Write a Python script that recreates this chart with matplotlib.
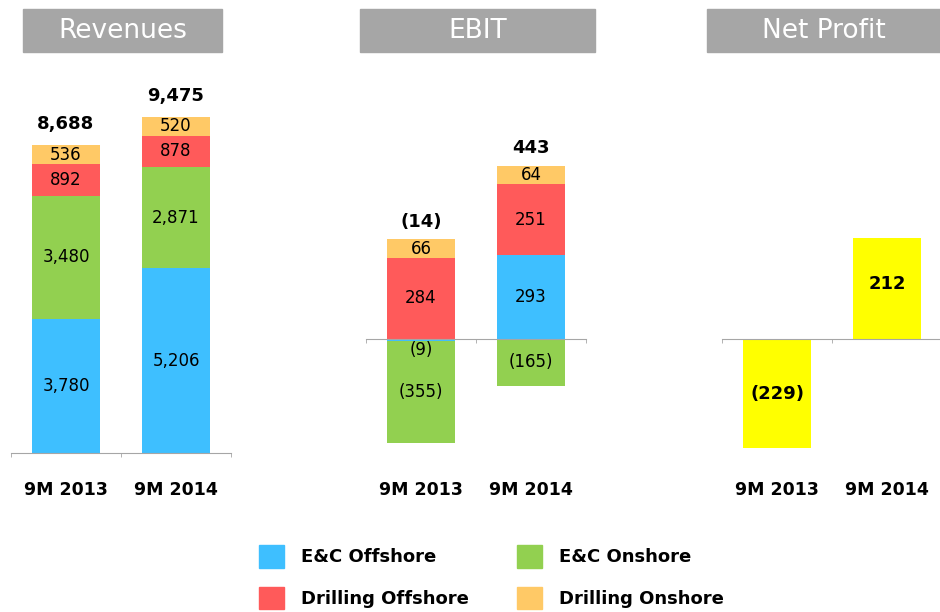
import matplotlib
matplotlib.use('Agg')
import matplotlib.pyplot as plt
from matplotlib.patches import Patch, Rectangle
from matplotlib import transforms

W, H = 940, 612

periods = ['9M 2013', '9M 2014']
segments = ['E&C Offshore', 'E&C Onshore', 'Drilling Offshore', 'Drilling Onshore']
colors = ['#3EBFFF', '#92D050', '#FF5A5A', '#FFC966']

rev = {
    'E&C Offshore': [3780, 5206],
    'E&C Onshore': [3480, 2871],
    'Drilling Offshore': [892, 878],
    'Drilling Onshore': [536, 520],
}
ebit = {
    'E&C Offshore': [-9, 293],
    'E&C Onshore': [-355, -165],
    'Drilling Offshore': [284, 251],
    'Drilling Onshore': [66, 64],
}
net_profit = [-229, 212]

titles = ['Revenues', 'EBIT', 'Net Profit']


def fmt(v):
    s = '{:,}'.format(abs(v))
    return '(%s)' % s if v < 0 else s


def px_axes(fig, x0, x1, ytop, ybot):
    return fig.add_axes([x0 / W, 1 - ybot / H, (x1 - x0) / W, (ybot - ytop) / H])


def style_axis(ax, fig):
    for s in ['top', 'right', 'left']:
        ax.spines[s].set_visible(False)
    ax.spines['bottom'].set_position(('data', 0))
    ax.spines['bottom'].set_color('#a6a6a6')
    ax.set_xlim(-0.5, 1.5)
    ax.set_yticks([])
    ax.set_xticks([0, 1])
    ax.set_xticklabels([])
    ax.tick_params(axis='x', which='major', length=0)
    ax.set_xticks([-0.5, 0.5, 1.5], minor=True)
    ax.tick_params(axis='x', which='minor', length=3, color='#a6a6a6', direction='out')
    tr = transforms.blended_transform_factory(ax.transData, fig.transFigure)
    for i, p in enumerate(periods):
        ax.text(i, 1 - 490 / H, p, transform=tr, ha='center', va='center',
                fontsize=12.5, fontweight='bold')
    ax.patch.set_alpha(0)


def stacked(ax, data, label_pad):
    pos_base = [0, 0]
    neg_base = [0, 0]
    for seg, c in zip(segments, colors):
        vals = data[seg]
        for i, v in enumerate(vals):
            if v >= 0:
                b = pos_base[i]
                pos_base[i] += v
            else:
                b = neg_base[i]
                neg_base[i] += v
            ax.bar(i, v, bottom=b, width=0.62, color=c, linewidth=0)
            if abs(v) < 30:
                ax.text(i, b + v, fmt(v), ha='center', va='top', fontsize=12)
            else:
                ax.text(i, b + v / 2, fmt(v), ha='center', va='center', fontsize=12)
    totals = [sum(data[s][i] for s in segments) for i in range(2)]
    for i, t in enumerate(totals):
        ax.text(i, pos_base[i] + label_pad, fmt(t), ha='center', va='bottom',
                fontsize=13, fontweight='bold')


fig = plt.figure(figsize=(W / 100, H / 100), dpi=100)

# header boxes
for (x0, x1), t in zip([(23, 222), (360, 595), (707, 940)], titles):
    fig.patches.append(Rectangle((x0 / W, 1 - 52 / H), (x1 - x0) / W, 43 / H,
                                 transform=fig.transFigure, color='#a6a6a6'))
    fig.text((x0 + x1) / 2 / W, 1 - 31 / H, t, ha='center', va='center',
             color='white', fontsize=19)

# Revenues
ax1 = px_axes(fig, 11, 231, 60, 453)
ax1.set_ylim(0, 11086)
style_axis(ax1, fig)
stacked(ax1, rev, 350)

# EBIT
ax2 = px_axes(fig, 366, 586, 60, 460)
ax2.set_ylim(-425, 979)
style_axis(ax2, fig)
stacked(ax2, ebit, 30)

# Net profit
ax3 = px_axes(fig, 722, 942, 60, 460)
ax3.set_ylim(-254, 586)
style_axis(ax3, fig)
ax3.bar([0, 1], net_profit, width=0.62, color='#FFFF00', linewidth=0)
for i, v in enumerate(net_profit):
    ax3.text(i, v / 2 if v < 0 else v * 0.55, fmt(v), ha='center', va='center',
             fontsize=13, fontweight='bold')

handles = [Patch(color=c, label=s) for s, c in zip(segments, colors)]
order = [0, 2, 1, 3]
fig.legend([handles[k] for k in order], [segments[k] for k in order],
           ncol=2, loc='upper left', bbox_to_anchor=(250 / W, 1 - 536 / H),
           frameon=False, prop={'weight': 'bold', 'size': 13},
           handlelength=1.4, handleheight=1.55, handletextpad=0.9,
           columnspacing=2.7, labelspacing=1.05, borderpad=0)

fig.savefig('out.png', dpi=100)
